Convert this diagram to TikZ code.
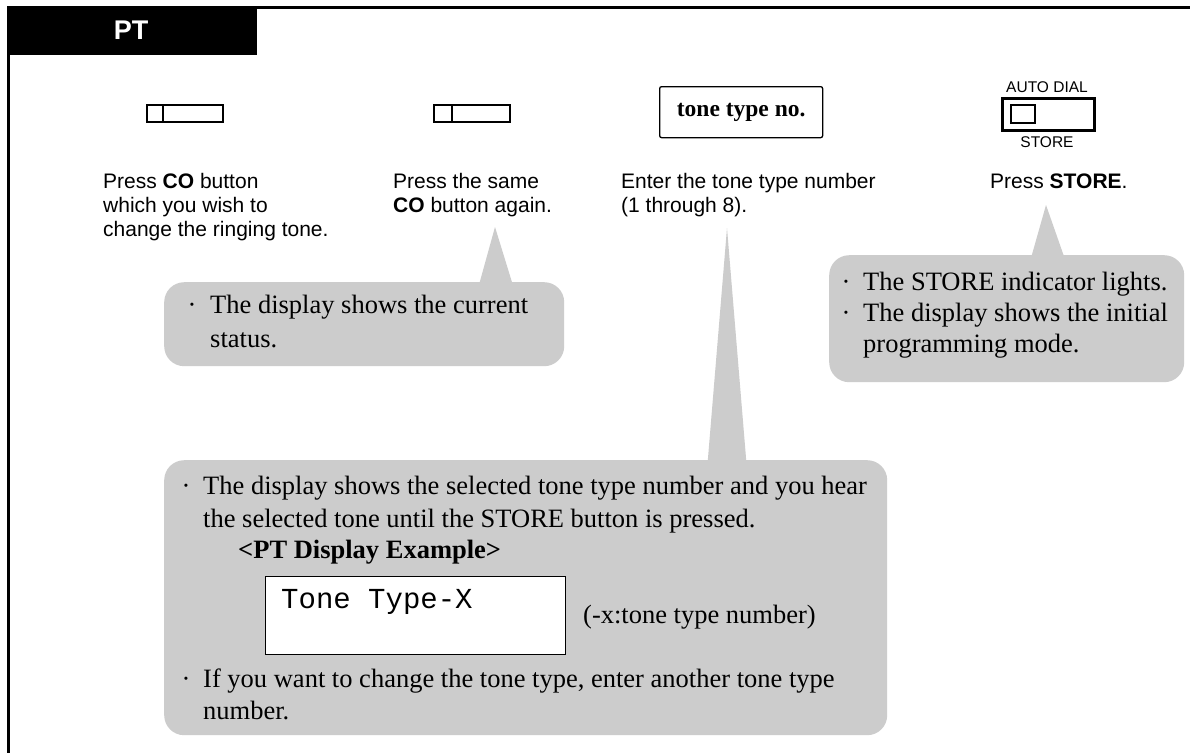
\documentclass[tikz,border=0pt]{standalone}
\usepackage{fontspec}
\setmainfont{Liberation Serif}
\setsansfont{Liberation Sans}
\setmonofont{Liberation Mono}
\definecolor{bubgray}{HTML}{CCCCCC}
\tikzset{
  lab/.style={font=\sffamily\fontsize{21}{24}\selectfont, anchor=base west, inner sep=0pt},
  small/.style={font=\sffamily\fontsize{15.5}{18}\selectfont, anchor=base, inner sep=0pt},
  btxt/.style={font=\rmfamily\fontsize{26.5}{32}\selectfont, anchor=base west, inner sep=0pt},
  bdot/.style={font=\rmfamily\fontsize{26.5}{32}\selectfont, anchor=base, inner sep=0pt},
  bubble/.style={fill=bubgray, draw=none, rounded corners=20pt, anchor=north west, inner sep=0pt},
  pointer/.style={fill=bubgray, draw=none},
  cobtn/.style={draw, line width=2pt, anchor=north west, inner sep=0pt, minimum width=76pt, minimum height=17pt},
}
\begin{document}
\begin{tikzpicture}[x=1pt, y=-1pt]
\useasboundingbox (0,0) rectangle (1190,753);
\fill[white] (0,0) rectangle (1190,753);

% frame and header
\draw[line width=2.7pt] (1190,7.5) -- (8.7,7.5) -- (8.7,753);
\node[fill=black, anchor=north west, inner sep=0pt, minimum width=249pt, minimum height=48pt] (hdr) at (8,6.5) {};
\node[text=white, font=\sffamily\bfseries\fontsize{27}{30}\selectfont, anchor=base, inner sep=0pt] (pt) at (131,39) {PT};

% CO buttons
\node[cobtn] (co1) at (146,104) {};
\draw[line width=2pt] ([xshift=17pt]co1.north west) -- ([xshift=17pt]co1.south west);
\node[cobtn] (co2) at (433,104) {};
\draw[line width=2pt] ([xshift=19pt]co2.north west) -- ([xshift=19pt]co2.south west);

% tone type no. box
\node[draw, line width=1.3pt, rounded corners=2pt, anchor=north west, inner sep=0pt,
      minimum width=163pt, minimum height=51pt,
      font=\rmfamily\bfseries\fontsize{23.5}{26}\selectfont] (tone) at (659,86) {tone type no.};

% AUTO DIAL / STORE button
\node[small] (autodial) at (1047,92) {AUTO DIAL};
\node[draw, line width=2.7pt, anchor=north west, inner sep=0pt, minimum width=92pt, minimum height=32pt] (store) at (1001,97) {};
\node[draw, line width=2pt, anchor=north west, inner sep=0pt, minimum width=24pt, minimum height=18pt] (lamp) at (1010,104) {};
\node[small] (storelab) at (1047,147) {STORE};

% step labels
\node[lab] (s1a) at (103,188) {Press \textbf{CO} button};
\node[lab] (s1b) at (103,212) {which you wish to};
\node[lab] (s1c) at (103,236) {change the ringing tone.};
\node[lab] (s2a) at (393,188) {Press the same};
\node[lab] (s2b) at (393,212) {\textbf{CO} button again.};
\node[lab] (s3a) at (621,188) {Enter the tone type number};
\node[lab] (s3b) at (621,212) {(1 through 8).};
\node[lab] (s4a) at (990,188) {Press \textbf{STORE}.};

% bubble 1
\coordinate (a1) at (495,227);
\fill[pointer] (a1) -- (477,292) -- (515,292) -- cycle;
\node[bubble, minimum width=400pt, minimum height=84pt] (b1) at (164,282) {};
\node[bdot] (b1d) at (192,313) {·};
\node[btxt] (b1a) at (210,313) {The display shows the current};
\node[btxt] (b1b) at (210,347) {status.};

% bubble 2
\coordinate (a2) at (1046,205);
\fill[pointer] (a2) -- (1029,265) -- (1067,265) -- cycle;
\node[bubble, minimum width=355pt, minimum height=127pt] (b2) at (829,255) {};
\node[bdot] (b2d1) at (846,290) {·};
\node[btxt] (b2a) at (863,290) {The STORE indicator lights.};
\node[bdot] (b2d2) at (846,321) {·};
\node[btxt] (b2b) at (863,321) {The display shows the initial};
\node[btxt] (b2c) at (863,352) {programming mode.};

% bubble 3
\coordinate (a3) at (727,228);
\fill[pointer] (a3) -- (707,470) -- (747,470) -- cycle;
\node[bubble, minimum width=723pt, minimum height=275pt] (b3) at (164,460) {};
\node[bdot] (b3d1) at (186,494) {·};
\node[btxt] (b3a) at (203,494) {The display shows the selected tone type number and you hear};
\node[btxt] (b3b) at (203,527) {the selected tone until the STORE button is pressed.};
\node[btxt, font=\rmfamily\bfseries\fontsize{26.5}{32}\selectfont] (b3c) at (238,558) {<PT Display Example>};
\node[draw, fill=white, line width=1.3pt, anchor=north west, inner sep=0pt, minimum width=300pt, minimum height=78pt] (disp) at (265,576) {};
\node[font=\ttfamily\fontsize{29}{32}\selectfont, anchor=base west, inner sep=0pt] (dtext) at (281,608) {Tone Type-X};
\node[btxt] (b3e) at (583,623) {(-x:tone type number)};
\node[bdot] (b3d2) at (186,687) {·};
\node[btxt] (b3f) at (203,687) {If you want to change the tone type, enter another tone type};
\node[btxt] (b3g) at (203,719) {number.};
\end{tikzpicture}
\end{document}
